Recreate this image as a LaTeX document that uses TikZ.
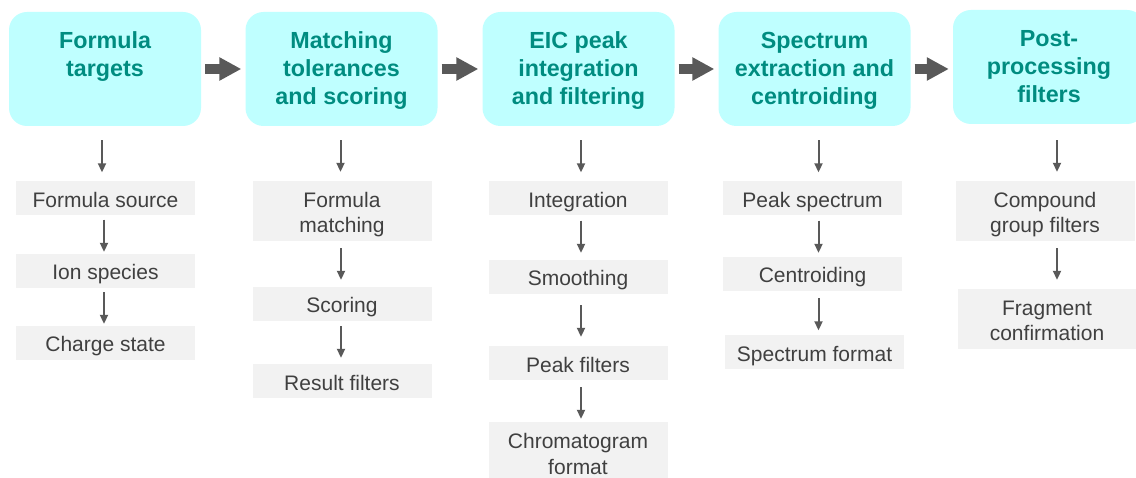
\documentclass[tikz,border=0pt]{standalone}
\usepackage{fontspec}
\setmainfont{Liberation Sans}
\usetikzlibrary{arrows.meta}
\definecolor{boxcyan}{RGB}{191,255,255}
\definecolor{titleteal}{RGB}{0,140,128}
\definecolor{subgray}{RGB}{242,242,242}
\definecolor{subtext}{RGB}{64,64,64}
\definecolor{arrgray}{RGB}{89,89,89}
\newcommand\gstrut{\rule[-3pt]{0pt}{25pt}}
\newcommand\gtop{\rule[-5pt]{0pt}{27pt}}
\newcommand\gbot{\rule[-3pt]{0pt}{23pt}}
\newcommand\ttlbox[1]{\parbox[c][114pt][t]{190pt}{\centering\rule{0pt}{37pt}#1}}
\begin{document}
\begin{tikzpicture}[x=1pt,y=-1pt,
  titlebox/.style={fill=boxcyan, rounded corners=18pt, inner sep=0pt, minimum width=192pt, minimum height=114pt, text=titleteal, font=\bfseries\fontsize{23.3}{28}\selectfont},
  subbox/.style={fill=subgray, inner sep=0pt, minimum width=179pt, minimum height=34pt, align=center, text=subtext, font=\fontsize{21}{25}\selectfont},
  twoline/.style={minimum height=60pt},
  bigarr/.style={draw=arrgray, line width=9.5pt, -{Triangle[length=22pt,width=22pt]}, shorten <=4pt, shorten >=4pt},
  smallarr/.style={draw=arrgray, line width=2pt, -{Triangle[length=9pt,width=8pt]}}]
\useasboundingbox (0,0) rectangle (1136,478);
\fill[white] (0,0) rectangle (1136,478);

% title boxes
\node[titlebox] (t1) at (105,69) {\ttlbox{Formula\\targets}};
\node[titlebox] (t2) at (341.5,69) {\ttlbox{Matching\\tolerances\\and scoring}};
\node[titlebox] (t3) at (578.5,69) {\ttlbox{EIC peak\\integration\\and filtering}};
\node[titlebox] (t4) at (814.5,69) {\ttlbox{Spectrum\\extraction and\\centroiding}};
\node[titlebox] (t5) at (1049,67) {\ttlbox{Post-\\processing\\filters}};

\draw[bigarr] (t1.east) -- (t2.west);
\draw[bigarr] (t2.east) -- (t3.west);
\draw[bigarr] (t3.east) -- (t4.west);
\draw[bigarr] (t4.east) -- (t4.east -| t5.west);

% column 1
\node[subbox] (g11) at (105.5,198.5) {\gstrut Formula source};
\node[subbox] (g12) at (105.5,271) {\gstrut Ion species};
\node[subbox] (g13) at (105.5,343) {\gstrut Charge state};
% column 2
\node[subbox,twoline] (g21) at (342,211) {\gtop Formula\\\gbot matching};
\node[subbox] (g22) at (342,304) {\gstrut Scoring};
\node[subbox] (g23) at (342,381) {\gstrut Result filters};
% column 3
\node[subbox] (g31) at (578,198.5) {\gstrut Integration};
\node[subbox] (g32) at (578,277) {\gstrut Smoothing};
\node[subbox] (g33) at (578,363) {\gstrut Peak filters};
\node[subbox,twoline] (g34) at (578,452) {\gtop Chromatogram\\\gbot format};
% column 4
\node[subbox] (g41) at (812.5,198.5) {\gstrut Peak spectrum};
\node[subbox] (g42) at (812.5,274) {\gstrut Centroiding};
\node[subbox] (g43) at (814.5,352.5) {\gstrut Spectrum format};
% column 5
\node[subbox,twoline] (g51) at (1045,211) {\gtop Compound\\\gbot group filters};
\node[subbox,twoline] (g52) at (1047,319) {\gtop Fragment\\\gbot confirmation};

% column 1 arrows
\draw[smallarr, shorten <=14pt, shorten >=9pt] ([xshift=-3pt]t1.south) -- ([xshift=-3pt]t1.south |- g11.north);
\draw[smallarr, shorten <=4pt, shorten >=2pt] ([xshift=-1.5pt]g11.south) -- ([xshift=-1.5pt]g12.north);
\draw[smallarr, shorten <=4pt, shorten >=2pt] ([xshift=-1.5pt]g12.south) -- ([xshift=-1.5pt]g13.north);
% column 2 arrows
\draw[smallarr, shorten <=14pt, shorten >=9pt] ([xshift=-1pt]t2.south) -- ([xshift=-1pt]t2.south |- g21.north);
\draw[smallarr, shorten <=7pt, shorten >=7pt] ([xshift=-1pt]g21.south) -- ([xshift=-1pt]g22.north);
\draw[smallarr, shorten <=5pt, shorten >=6pt] ([xshift=-1pt]g22.south) -- ([xshift=-1pt]g23.north);
% column 3 arrows
\draw[smallarr, shorten <=14pt, shorten >=9pt] ([xshift=2.5pt]t3.south) -- ([xshift=2.5pt]t3.south |- g31.north);
\draw[smallarr, shorten <=5pt, shorten >=7pt] ([xshift=3pt]g31.south) -- ([xshift=3pt]g32.north);
\draw[smallarr, shorten <=11pt, shorten >=9pt] ([xshift=3pt]g32.south) -- ([xshift=3pt]g33.north);
\draw[smallarr, shorten <=7pt, shorten >=3pt] ([xshift=3pt]g33.south) -- ([xshift=3pt]g34.north);
% column 4 arrows
\draw[smallarr, shorten <=14pt, shorten >=9pt] ([xshift=4pt]t4.south) -- ([xshift=4pt]t4.south |- g41.north);
\draw[smallarr, shorten <=5pt, shorten >=4pt] ([xshift=6pt]g41.south) -- ([xshift=6pt]g42.north);
\draw[smallarr, shorten <=7pt, shorten >=5pt] ([xshift=6pt]g42.south) -- ([xshift=6pt]g42.south |- g43.north);
% column 5 arrows
\draw[smallarr, shorten <=16pt, shorten >=9pt] ([xshift=8pt]t5.south) -- ([xshift=8pt]t5.south |- g51.north);
\draw[smallarr, shorten <=7pt, shorten >=9pt] ([xshift=12pt]g51.south) -- ([xshift=12pt]g51.south |- g52.north);
\end{tikzpicture}
\end{document}
